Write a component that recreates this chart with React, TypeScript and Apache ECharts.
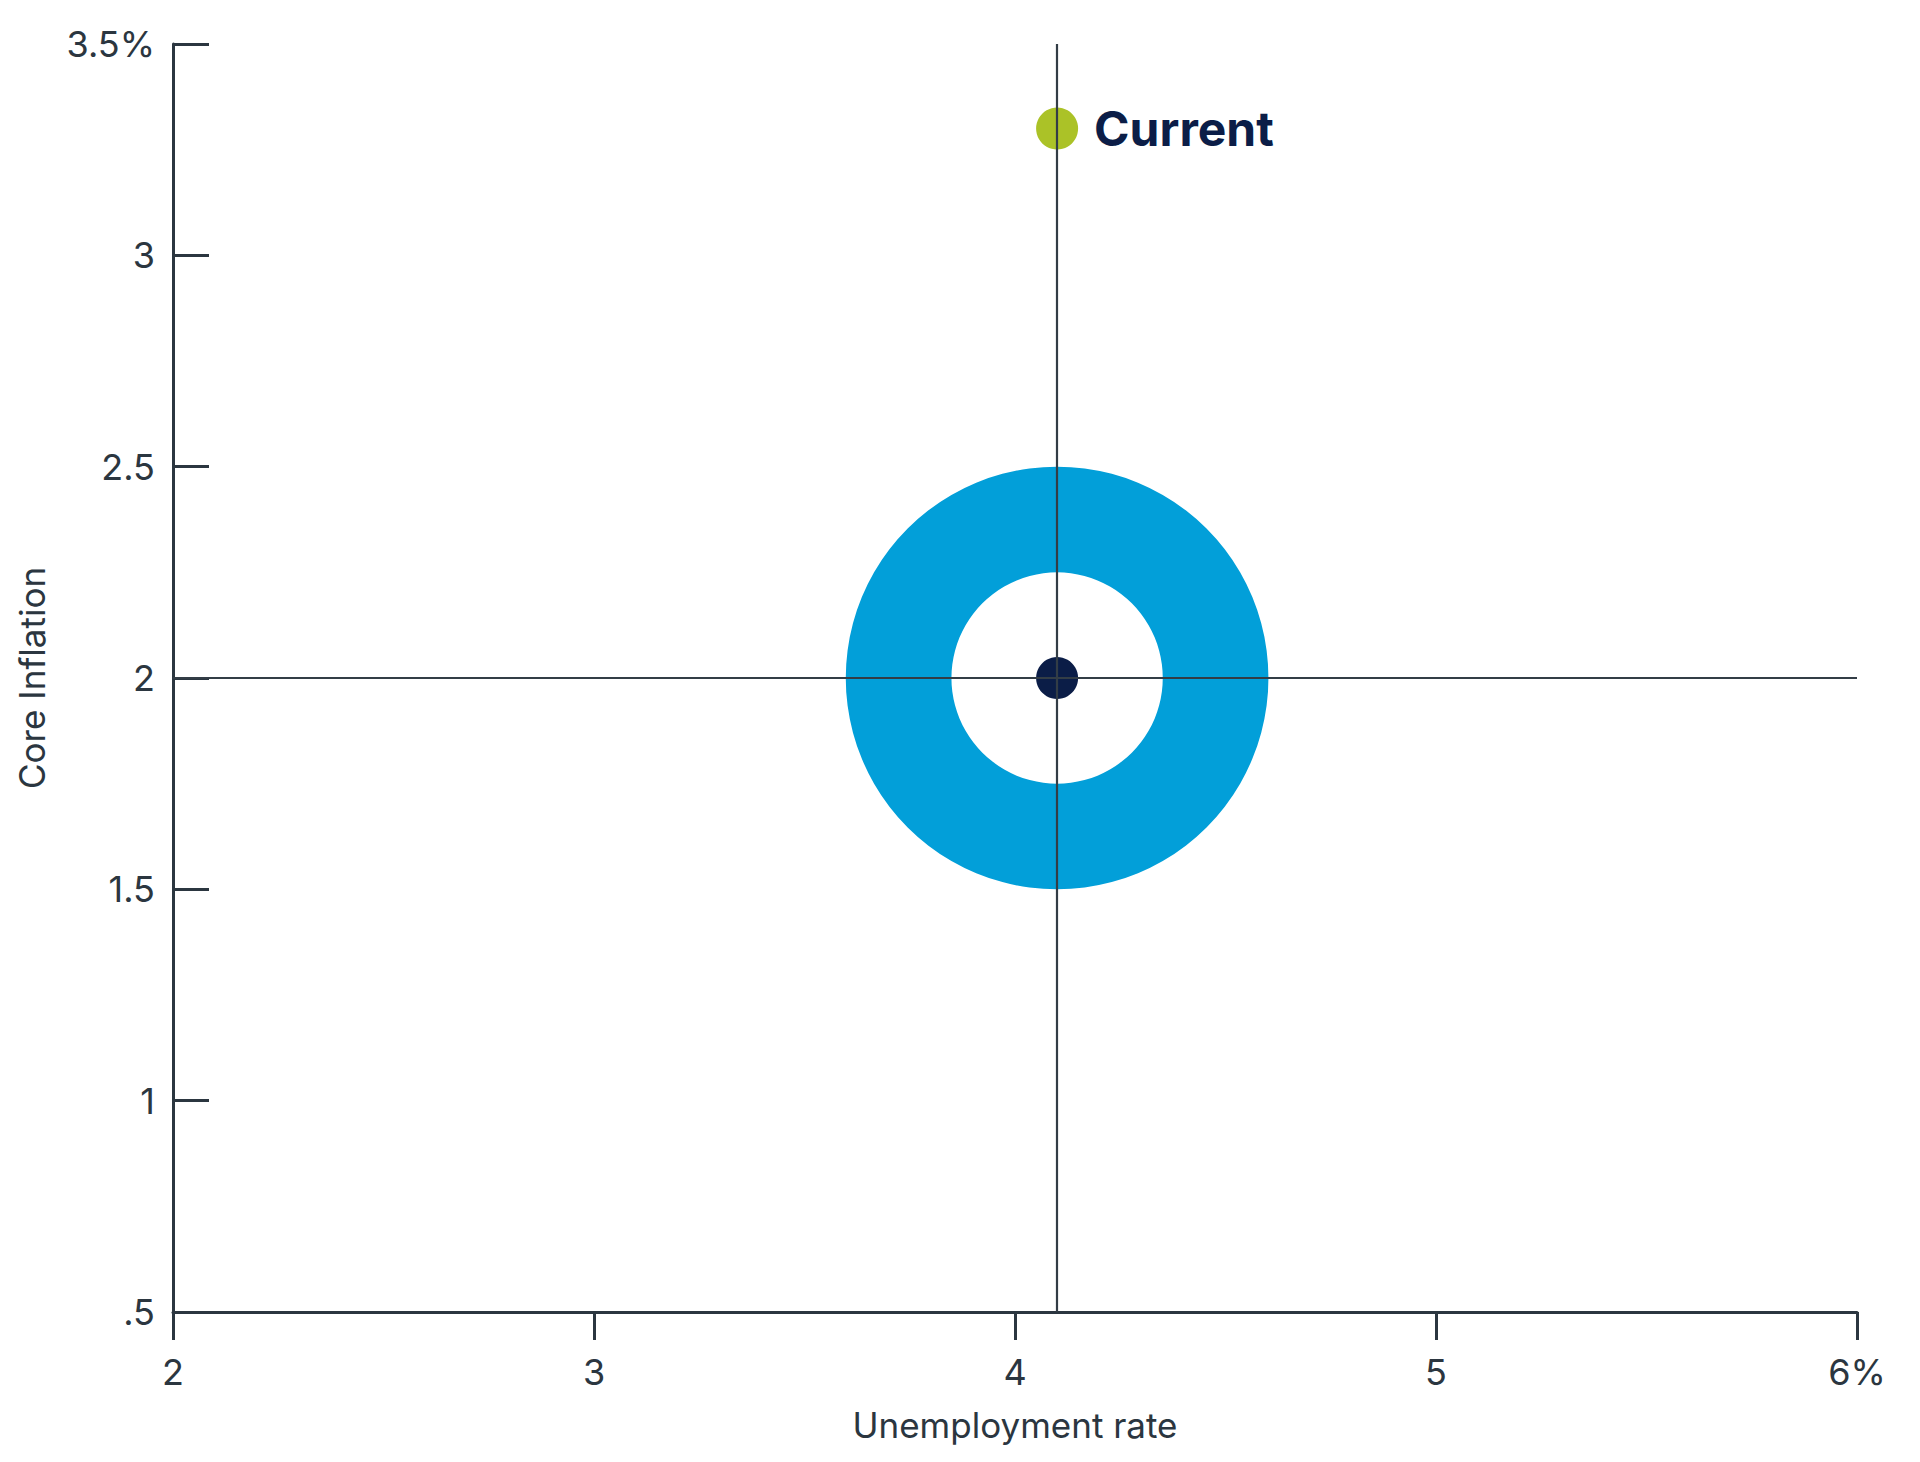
import React, { useEffect, useRef } from "react";
import * as echarts from "echarts";

const xTicks = [2, 3, 4, 5, 6];
const xTickLabels = ["2", "3", "4", "5", "6%"];
const yTicks = [0.5, 1, 1.5, 2, 2.5, 3, 3.5];
const yTickLabels = [".5", "1", "1.5", "2", "2.5", "3", "3.5%"];

const targetUnemployment = 4.1;
const targetInflation = 2;
const ringOuterRadius = 0.5;
const ringInnerRadius = 0.25;
const currentPoint = [4.1, 3.3];
const currentLabel = "Current";

const AXIS = "#2b3640";
const TEXT = "#2b3640";
const FONT = "Inter";

export default function App() {
  const ref = useRef<HTMLDivElement>(null);
  useEffect(() => {
    if (!ref.current) return;
    const chart = echarts.init(ref.current, undefined, { renderer: "svg" });
    const fmtX = (v: number) => {
      const i = xTicks.indexOf(Math.round(v * 100) / 100);
      return i >= 0 ? xTickLabels[i] : "";
    };
    const fmtY = (v: number) => {
      const i = yTicks.indexOf(Math.round(v * 100) / 100);
      return i >= 0 ? yTickLabels[i] : "";
    };
    chart.setOption({
      animation: false,
      backgroundColor: "#ffffff",
      grid: { left: 173, right: 63, top: 44, bottom: 150, containLabel: false },
      xAxis: {
        type: "value",
        min: xTicks[0],
        max: xTicks[xTicks.length - 1],
        interval: 1,
        name: "Unemployment rate",
        nameLocation: "middle",
        nameGap: 95,
        nameTextStyle: { color: TEXT, fontSize: 35, fontFamily: FONT },
        axisLine: { show: true, lineStyle: { color: AXIS, width: 3 } },
        axisTick: { show: true, length: 28, lineStyle: { color: AXIS, width: 3 } },
        axisLabel: { color: TEXT, fontSize: 36, fontFamily: FONT, margin: 42, formatter: fmtX },
        splitLine: { show: false },
      },
      yAxis: {
        type: "value",
        min: yTicks[0],
        max: yTicks[yTicks.length - 1],
        interval: 0.5,
        name: "Core Inflation",
        nameLocation: "middle",
        nameGap: 124,
        nameTextStyle: { color: TEXT, fontSize: 35, fontFamily: FONT },
        axisLine: { show: true, lineStyle: { color: AXIS, width: 3 } },
        axisTick: { show: true, inside: true, length: 36, lineStyle: { color: AXIS, width: 3 } },
        axisLabel: { color: TEXT, fontSize: 36, fontFamily: FONT, margin: 18, formatter: fmtY },
        splitLine: { show: false },
      },
      series: [
        {
          type: "line",
          data: [],
          z: 1,
          markLine: {
            silent: true,
            symbol: ["none", "none"],
            label: { show: false },
            lineStyle: { color: "#333d46", width: 2.2, type: "solid", opacity: 1 },
            data: [{ xAxis: targetUnemployment }, { yAxis: targetInflation }],
          },
        },
        {
          type: "custom",
          z: 2,
          data: [[targetUnemployment, targetInflation, ringOuterRadius, ringInnerRadius]],
          renderItem: (params: any, api: any) => {
            const c = api.coord([api.value(0), api.value(1)]);
            const outer = api.size([api.value(2), api.value(2)]);
            const inner = api.size([api.value(3), api.value(3)]);
            return {
              type: "ring",
              shape: { cx: c[0], cy: c[1], r: outer[1], r0: inner[1] },
              style: { fill: "#029fd9" },
            };
          },
        },
        {
          type: "scatter",
          z: 3,
          symbol: "circle",
          symbolSize: 42,
          itemStyle: { color: "#0b1d47", opacity: 1 },
          data: [[targetUnemployment, targetInflation]],
        },
        {
          type: "scatter",
          z: 3,
          symbol: "circle",
          symbolSize: 42,
          itemStyle: { color: "#abc227", opacity: 1 },
          label: {
            show: true,
            position: "right",
            distance: 16,
            formatter: currentLabel,
            color: "#0b1d47",
            opacity: 1,
            fontSize: 48,
            fontWeight: "bold",
            fontFamily: FONT,
          },
          data: [currentPoint],
        },
      ],
    });
    return () => chart.dispose();
  }, []);
  return (
    <div
      ref={ref}
      style={{ position: "absolute", left: 0, top: 0, width: 1920, height: 1462 }}
    />
  );
}
